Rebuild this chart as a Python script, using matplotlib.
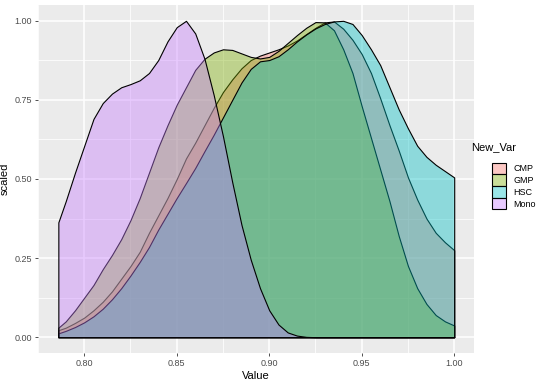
import numpy as np
import matplotlib
matplotlib.use("Agg")
import matplotlib.pyplot as plt
from matplotlib.colors import to_rgba
from matplotlib.patches import Patch

plt.rcParams['font.family'] = ['Liberation Sans', 'DejaVu Sans']

# shared x grid of the density curves
value = [0.786, 0.790, 0.795, 0.800, 0.805, 0.810, 0.815, 0.820, 0.825, 0.830,
         0.835, 0.840, 0.845, 0.850, 0.855, 0.860, 0.865, 0.870, 0.875, 0.880,
         0.885, 0.890, 0.895, 0.900, 0.905, 0.910, 0.915, 0.920, 0.925, 0.930,
         0.935, 0.940, 0.945, 0.950, 0.955, 0.960, 0.965, 0.970, 0.975, 0.980,
         0.985, 0.990, 0.995, 1.000]

cmp_scaled = [0.022, 0.030, 0.045, 0.062, 0.085, 0.112, 0.145, 0.185, 0.225, 0.270,
              0.330, 0.385, 0.440, 0.500, 0.565, 0.615, 0.670, 0.725, 0.775, 0.815,
              0.850, 0.876, 0.890, 0.900, 0.910, 0.922, 0.938, 0.958, 0.978, 0.995,
              0.998, 0.975, 0.940, 0.895, 0.835, 0.755, 0.670, 0.590, 0.505, 0.435,
              0.375, 0.330, 0.300, 0.275]

gmp_scaled = [0.030, 0.050, 0.085, 0.125, 0.165, 0.215, 0.260, 0.310, 0.370, 0.440,
              0.520, 0.600, 0.670, 0.735, 0.790, 0.845, 0.880, 0.900, 0.910, 0.908,
              0.897, 0.886, 0.881, 0.886, 0.905, 0.930, 0.955, 0.978, 0.996, 0.995,
              0.970, 0.910, 0.835, 0.730, 0.630, 0.530, 0.430, 0.320, 0.225, 0.155,
              0.105, 0.070, 0.050, 0.037]

hsc_scaled = [0.012, 0.020, 0.032, 0.047, 0.066, 0.090, 0.120, 0.155, 0.195, 0.238,
              0.285, 0.340, 0.390, 0.440, 0.487, 0.535, 0.588, 0.640, 0.695, 0.750,
              0.805, 0.848, 0.872, 0.876, 0.888, 0.910, 0.935, 0.957, 0.976, 0.990,
              0.998, 1.000, 0.990, 0.955, 0.910, 0.860, 0.790, 0.720, 0.660, 0.605,
              0.570, 0.545, 0.525, 0.505]

mono_scaled = [0.363, 0.430, 0.520, 0.605, 0.690, 0.740, 0.770, 0.790, 0.800, 0.812,
               0.835, 0.876, 0.935, 0.980, 1.000, 0.960, 0.880, 0.765, 0.635, 0.490,
               0.355, 0.245, 0.155, 0.085, 0.040, 0.015, 0.005, 0.001, 0.0, 0.0,
               0.0, 0.0, 0.0, 0.0, 0.0, 0.0, 0.0, 0.0, 0.0, 0.0,
               0.0, 0.0, 0.0, 0.0]

groups = ['CMP', 'GMP', 'HSC', 'Mono']
colors = ['#F8766D', '#7CAE00', '#00BFC4', '#C77CFF']
series = [cmp_scaled, gmp_scaled, hsc_scaled, mono_scaled]

fig = plt.figure(figsize=(5.4, 3.82), dpi=100)
ax = fig.add_axes([38 / 540, 1 - 353 / 382, (474 - 38) / 540, (353 - 5) / 382])

ax.set_facecolor('#EBEBEB')
for s in ax.spines.values():
    s.set_visible(False)

x = np.array(value)
for y, c in zip(series, colors):
    ax.fill_between(x, 0, y, facecolor=to_rgba(c, 0.4), edgecolor='black',
                    linewidth=0.8, joinstyle='round', zorder=3)

ax.set_xlim(0.7753, 1.0107)
ax.set_ylim(-0.05, 1.05)
ax.set_xticks([0.80, 0.85, 0.90, 0.95, 1.00])
ax.set_xticklabels(['0.80', '0.85', '0.90', '0.95', '1.00'])
ax.set_xticks([0.775, 0.825, 0.875, 0.925, 0.975], minor=True)
ax.set_yticks([0.0, 0.25, 0.5, 0.75, 1.0])
ax.set_yticklabels(['0.00', '0.25', '0.50', '0.75', '1.00'])
ax.set_yticks([0.125, 0.375, 0.625, 0.875], minor=True)
ax.grid(which='major', color='white', linewidth=1.1, zorder=0)
ax.grid(which='minor', color='white', linewidth=0.55, zorder=0)
ax.set_axisbelow(True)
ax.tick_params(which='major', length=2.5, width=0.6, color='#333333',
               labelsize=6.5, labelcolor='#4D4D4D', pad=2)
ax.tick_params(which='minor', length=0)

ax.set_xlabel('Value', fontsize=8, labelpad=2)
ax.set_ylabel('scaled', fontsize=8, labelpad=3)

# legend keys, with the title set apart to the left as in the reference
handles = [Patch(facecolor=to_rgba(c, 0.4), edgecolor='black', linewidth=0.8)
           for c in colors]
ax.legend(handles, groups, loc='center left', bbox_to_anchor=(1.032, 0.48),
          frameon=False, fontsize=6.5, handlelength=1.45, handleheight=1.55,
          labelspacing=0.06, handletextpad=0.9, borderpad=0)
fig.text(471 / 540, 1 - 147 / 382, 'New_Var', fontsize=8, va='center', ha='left')

fig.savefig('out.png', dpi=100)
